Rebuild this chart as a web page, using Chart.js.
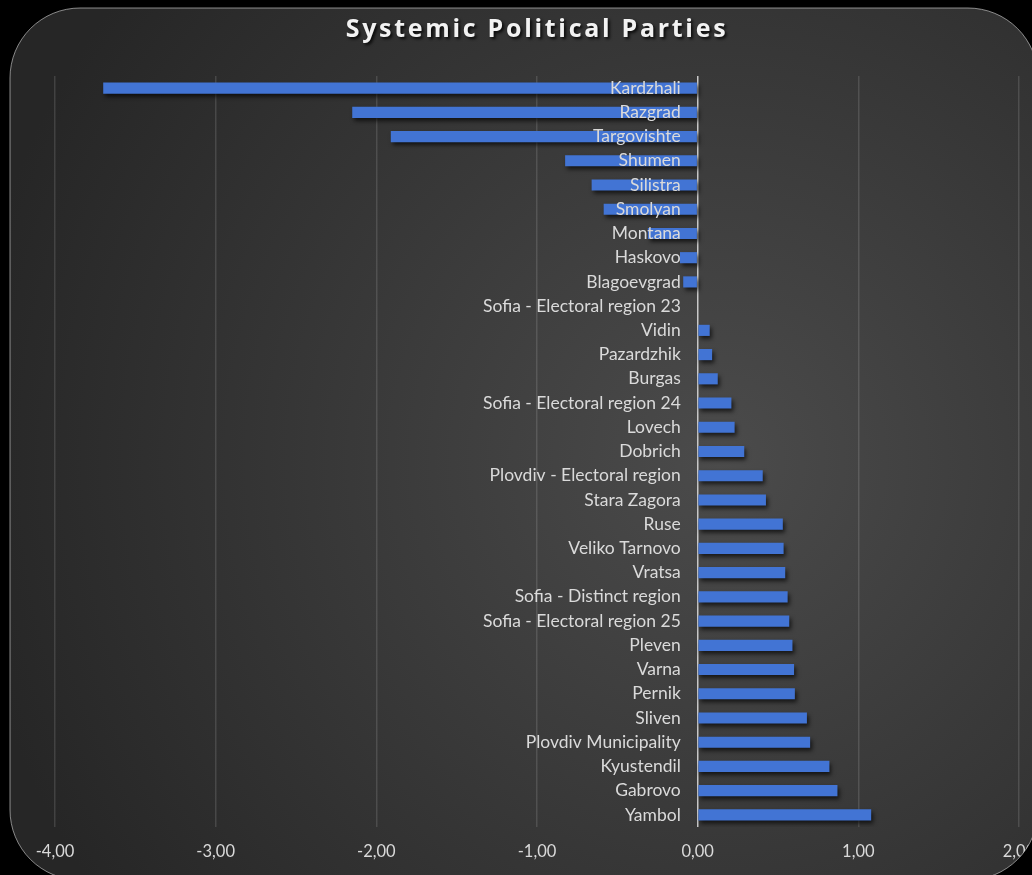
<!DOCTYPE html>
<html lang="en">
<head>
    <meta charset="UTF-8">
    <title>Systemic Political Parties</title>
    <style>
        body {
            margin: 0;
            background-color: #000;
        }
        .chart-container {
            width: 1032px;
            height: 875px;
        }
    </style>
</head>
<body>
    <div class="chart-container">
        <canvas id="partiesChart"></canvas>
    </div>

    <script src="https://cdn.jsdelivr.net/npm/chart.js"></script>
    <script>
        // Regions, top to bottom
        const regions = [
            'Kardzhali', 'Razgrad', 'Targovishte', 'Shumen', 'Silistra', 'Smolyan',
            'Montana', 'Haskovo', 'Blagoevgrad', 'Sofia - Electoral region 23', 'Vidin',
            'Pazardzhik', 'Burgas', 'Sofia - Electoral region 24', 'Lovech', 'Dobrich',
            'Plovdiv - Electoral region', 'Stara Zagora', 'Ruse', 'Veliko Tarnovo', 'Vratsa',
            'Sofia - Distinct region', 'Sofia - Electoral region 25', 'Pleven', 'Varna',
            'Pernik', 'Sliven', 'Plovdiv Municipality', 'Kyustendil', 'Gabrovo', 'Yambol'
        ];
        const values = [
            -3.70, -2.15, -1.91, -0.825, -0.66, -0.585,
            -0.31, -0.11, -0.09, 0.00, 0.075,
            0.09, 0.125, 0.21, 0.23, 0.29,
            0.405, 0.425, 0.53, 0.535, 0.545,
            0.56, 0.57, 0.59, 0.60,
            0.605, 0.68, 0.70, 0.82, 0.87, 1.08
        ];
        const axisMin = -4;
        const axisMax = 2;

        // Rounded dark panel behind the chart
        function panelPath(ctx) {
            ctx.beginPath();
            ctx.roundRect(10, 8, 1028, 872, 70);
        }

        const panelPlugin = {
            id: 'panel',
            beforeDraw(chart) {
                const ctx = chart.ctx;
                ctx.save();
                ctx.fillStyle = '#000';
                ctx.fillRect(0, 0, chart.width, chart.height);
                const g = ctx.createRadialGradient(720, 460, 0, 720, 460, 760);
                g.addColorStop(0, '#4b4b4b');
                g.addColorStop(1, '#262626');
                panelPath(ctx);
                ctx.fillStyle = g;
                ctx.fill();
                ctx.restore();

                // spaced-out title with a soft shadow
                const tb = chart.titleBlock;
                if (tb && !tb._spaced) {
                    const origDraw = tb.draw.bind(tb);
                    tb.draw = function () {
                        const c = this.ctx;
                        c.save();
                        c.letterSpacing = '2.7px';
                        c.shadowColor = 'rgba(0, 0, 0, 0.8)';
                        c.shadowOffsetX = 2;
                        c.shadowOffsetY = 2;
                        c.shadowBlur = 3;
                        origDraw();
                        c.restore();
                    };
                    tb._spaced = true;
                }
            },
            beforeDatasetsDraw(chart) {
                const ctx = chart.ctx;
                ctx.save();
                ctx.shadowColor = 'rgba(0, 0, 0, 0.65)';
                ctx.shadowOffsetX = 2;
                ctx.shadowOffsetY = 3;
                ctx.shadowBlur = 4;
            },
            afterDatasetsDraw(chart) {
                chart.ctx.restore();
            },
            afterDraw(chart) {
                // black corners outside the panel, then its thin edge
                const ctx = chart.ctx;
                ctx.save();
                ctx.beginPath();
                ctx.rect(0, 0, chart.width, chart.height);
                ctx.roundRect(10, 8, 1028, 872, 70);
                ctx.fillStyle = '#000';
                ctx.fill('evenodd');
                panelPath(ctx);
                ctx.strokeStyle = 'rgba(220, 220, 220, 0.6)';
                ctx.lineWidth = 1;
                ctx.stroke();
                ctx.restore();
            }
        };

        const ctx = document.getElementById('partiesChart').getContext('2d');
        const partiesChart = new Chart(ctx, {
            type: 'bar',
            data: {
                labels: regions,
                datasets: [{
                    data: values,
                    backgroundColor: '#4274d4',
                    borderWidth: 0,
                    categoryPercentage: 1,
                    barPercentage: 0.46
                }]
            },
            options: {
                indexAxis: 'y',
                responsive: true,
                maintainAspectRatio: false,
                animation: false,
                layout: { padding: { left: 55, right: 13, top: 0, bottom: 0 } },
                plugins: {
                    legend: { display: false },
                    tooltip: { enabled: false },
                    title: {
                        display: true,
                        text: 'Systemic Political Parties',
                        color: '#f2f2f2',
                        font: { family: 'Open Sans', size: 25, weight: 'bold', lineHeight: 1.2 },
                        padding: { top: 15, bottom: 31 }
                    }
                },
                scales: {
                    x: {
                        min: axisMin,
                        max: axisMax,
                        grid: {
                            color: c => c.tick && c.tick.value === 0 ? '#c8c8c8' : 'rgba(255, 255, 255, 0.13)',
                            lineWidth: 1.5,
                            drawTicks: false
                        },
                        border: { display: false },
                        ticks: {
                            stepSize: 1,
                            color: '#d9d9d9',
                            padding: 15,
                            font: { family: 'Lato', size: 16.5 },
                            callback: v => v.toFixed(2).replace('.', ',')
                        },
                        afterFit(scale) {
                            scale.paddingLeft = 0;
                            scale.paddingRight = 0;
                            scale.height = 48;
                        }
                    },
                    y: {
                        // labels sit just left of the zero line
                        position: { x: -0.105 },
                        grid: { display: false, drawTicks: false },
                        border: { display: false },
                        ticks: {
                            z: 1,
                            color: '#dadada',
                            font: { family: 'Lato', size: 17.5 }
                        },
                        afterFit(scale) {
                            scale.paddingTop = 0;
                            scale.paddingBottom = 0;
                        }
                    }
                }
            },
            plugins: [panelPlugin]
        });
    </script>
</body>
</html>
